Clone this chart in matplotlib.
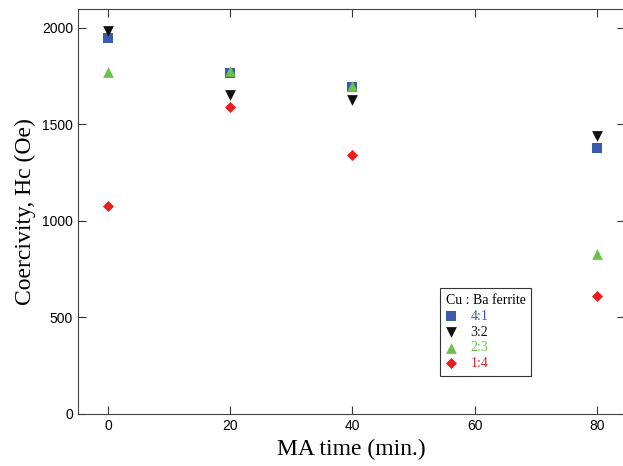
import numpy as np
import matplotlib.pyplot as plt

# MA time (min.) and coercivity values per Cu : Ba ferrite ratio
ma_time = [0, 20, 40, 80]
hc_41 = [1948, 1765, 1694, 1380]
hc_32 = [1984, 1653, 1625, 1440]
hc_23 = [1772, 1777, 1699, 829]
hc_14 = [1078, 1591, 1342, 611]
labels = ["4:1", "3:2", "2:3", "1:4"]

fig = plt.figure(figsize=(6.23, 4.66), dpi=100)
# right spine sits just outside the image like in the original
ax = fig.add_axes([0.1252, 0.1116, 0.878, 0.8691])

series = [hc_41, hc_32, hc_23, hc_14]
markers = ["s", "v", "^", "D"]
colors = ["#3a5bb0", "#111111", "#6cc24a", "#e82020"]
sizes = [60, 60, 60, 32]
for vals, m, c, s, lab in zip(series, markers, colors, sizes, labels):
    ax.scatter(ma_time, vals, marker=m, color=c, s=s, label=lab, linewidths=0)

ax.set_xlim(-4.9, 84.6)
ax.set_ylim(0, 2098)
ax.set_xticks([0, 20, 40, 60, 80])
ax.set_yticks([0, 500, 1000, 1500, 2000])
ax.tick_params(direction="in", top=True, right=True, length=6, width=0.8,
               labelsize=10, colors="#333333", labelcolor="black")
for lab in ax.get_xticklabels() + ax.get_yticklabels():
    lab.set_family("Liberation Sans")
for sp in ax.spines.values():
    sp.set_color("#444444")

ax.set_xlabel("MA time (min.)", family="Liberation Serif", fontsize=17)
ax.set_ylabel("Coercivity, Hc (Oe)", family="Liberation Serif", fontsize=17)

leg = ax.legend(title="Cu : Ba ferrite", loc="upper left",
                bbox_to_anchor=(0.662, 0.31), borderaxespad=0, frameon=True,
                fancybox=False, edgecolor="black", alignment="left",
                prop={"family": "Liberation Serif", "size": 10},
                handletextpad=1.0, borderpad=0.4, labelspacing=0.2,
                handlelength=0.8)
leg.get_title().set_family("Liberation Serif")
leg.get_title().set_fontsize(10)
leg.get_frame().set_linewidth(0.8)
for t, c in zip(leg.get_texts(), colors):
    t.set_color(c)

fig.savefig("out.png", dpi=100)
